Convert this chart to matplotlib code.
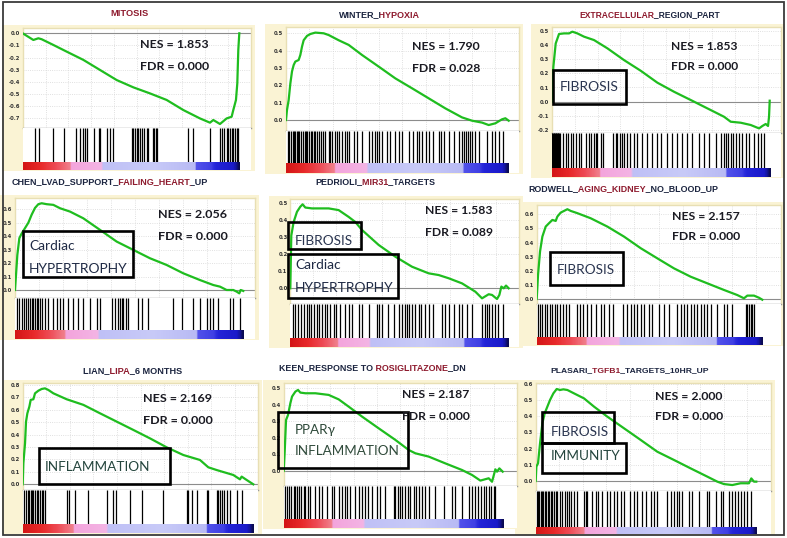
import numpy as np
import matplotlib
matplotlib.use('Agg')
import matplotlib.pyplot as plt
from matplotlib.colors import LinearSegmentedColormap
from matplotlib.patches import Rectangle
from matplotlib.transforms import IdentityTransform, Bbox

W, H = 787, 538
NAVY = '#1c2540'
DRED = '#8e1b2e'

# ---------------- data ----------------
title_parts = [
    [("MITOSIS", "r")],
    [("WINTER_", "n"), ("HYPOXIA", "r")],
    [("EXTRACELLULAR", "r"), ("_REGION_PART", "n")],
    [("CHEN_LVAD_SUPPORT_", "n"), ("FAILING_HEART", "r"), ("_UP", "n")],
    [("PEDRIOLI_", "n"), ("MIR31", "r"), ("_TARGETS", "n")],
    [("RODWELL_", "n"), ("AGING_KIDNEY", "r"), ("_NO_BLOOD_UP", "n")],
    [("LIAN_", "n"), ("LIPA", "r"), ("_6 MONTHS", "n")],
    [("KEEN_RESPONSE TO ", "n"), ("ROSIGLITAZONE", "r"), ("_DN", "n")],
    [("PLASARI_", "n"), ("TGFB1", "r"), ("_TARGETS_10HR_UP", "n")],
]
nes = [1.853, 1.790, 1.853, 2.056, 1.583, 2.157, 2.169, 2.187, 2.000]
fdr = [0.000, 0.028, 0.000, 0.000, 0.089, 0.000, 0.000, 0.000, 0.000]
box_labels = [[], [], [["FIBROSIS"]], [["Cardiac", "HYPERTROPHY"]],
              [["FIBROSIS"], ["Cardiac", "HYPERTROPHY"]], [["FIBROSIS"]],
              [["INFLAMMATION"]], [["PPARγ", "INFLAMMATION"]],
              [["FIBROSIS"], ["IMMUNITY"]]]
n_ranks = [650, 668, 654, 685, 655, 677, 692, 657, 662]

es_rank_1 = [0, 32, 47, 57, 92, 132, 182, 232, 282, 332, 382, 432, 482, 532, 562, 572, 592, 612, 627, 632, 640, 644, 647, 650]
es_1 = [0, -0.055, -0.041, -0.049, -0.096, -0.151, -0.219, -0.302, -0.385, -0.445, -0.495, -0.549, -0.632, -0.701, -0.736, -0.714, -0.747, -0.701, -0.687, -0.632, -0.549, -0.412, -0.137, 0.0]
hits_1 = [37, 50, 92, 124, 160, 172, 180, 187, 194, 214, 228, 232, 252, 262, 272, 327, 332, 337, 342, 347, 352, 357, 364, 372, 377, 390, 394, 400, 404, 497, 512, 562, 592, 597, 604, 612, 617, 622, 627, 632, 637, 642, 647]

es_rank_2 = [0, 3, 8, 13, 18, 23, 28, 38, 43, 48, 53, 63, 73, 88, 113, 128, 158, 188, 228, 278, 328, 378, 428, 478, 528, 558, 588, 608, 628, 648, 658, 668]
es_2 = [0, 0.058, 0.115, 0.21, 0.28, 0.317, 0.337, 0.346, 0.375, 0.423, 0.46, 0.485, 0.496, 0.504, 0.5, 0.49, 0.46, 0.433, 0.375, 0.308, 0.24, 0.183, 0.125, 0.067, 0.015, -0.004, -0.015, -0.029, -0.019, 0.004, 0.01, -0.004]
hits_2 = [6, 10, 14, 20, 24, 28, 32, 36, 40, 46, 50, 56, 60, 64, 70, 74, 78, 84, 88, 93, 98, 104, 110, 116, 128, 133, 138, 146, 153, 160, 168, 176, 184, 190, 203, 213, 228, 250, 258, 266, 273, 280, 288, 303, 313, 328, 340, 348, 368, 380, 393, 400, 408, 420, 428, 440, 458, 466, 473, 488, 503, 518, 528, 534, 540, 546, 552, 558, 568, 578, 603, 618, 628, 638, 650]

es_rank_3 = [0, 5, 12, 22, 37, 52, 62, 77, 97, 127, 167, 217, 267, 317, 367, 417, 467, 517, 537, 567, 597, 622, 632, 642, 649, 652, 654]
es_3 = [0, 0.246, 0.41, 0.477, 0.481, 0.481, 0.493, 0.481, 0.458, 0.434, 0.376, 0.293, 0.218, 0.134, 0.07, 0.012, -0.047, -0.106, -0.141, -0.148, -0.164, -0.188, -0.171, -0.157, -0.171, -0.106, 0.007]
hits_3 = [0, 2, 4, 6, 8, 10, 12, 14, 16, 18, 20, 22, 24, 35, 42, 49, 57, 65, 72, 82, 89, 102, 112, 117, 127, 132, 137, 147, 155, 185, 192, 197, 205, 212, 217, 225, 235, 247, 257, 272, 287, 302, 315, 327, 347, 362, 377, 392, 407, 422, 442, 457, 472, 492, 507, 517, 522, 529, 537, 545, 552, 562, 572, 582, 592, 607, 619, 629, 637]

es_rank_4 = [0, 3, 7, 13, 20, 30, 40, 50, 60, 70, 80, 95, 115, 135, 165, 205, 255, 305, 355, 405, 455, 505, 555, 595, 615, 635, 655, 665, 673, 677, 685]
es_4 = [0, 0.11, 0.26, 0.385, 0.42, 0.46, 0.5, 0.56, 0.61, 0.638, 0.645, 0.638, 0.633, 0.608, 0.583, 0.533, 0.447, 0.36, 0.298, 0.236, 0.186, 0.124, 0.074, 0.037, 0.025, 0.0, 0.0, -0.012, -0.025, 0.0, -0.007]
hits_4 = [7, 13, 20, 27, 33, 40, 45, 50, 55, 60, 65, 70, 75, 80, 90, 100, 115, 125, 135, 145, 160, 175, 190, 205, 225, 245, 255, 290, 300, 310, 315, 320, 325, 333, 340, 370, 380, 400, 475, 500, 535, 555, 575, 585, 595, 610, 645, 655, 675]

es_rank_5 = [0, 3, 10, 20, 30, 37, 45, 65, 95, 115, 145, 175, 195, 215, 265, 315, 365, 415, 445, 475, 515, 555, 575, 595, 605, 620, 627, 633, 640, 647, 655]
es_5 = [0, 0.31, 0.39, 0.45, 0.48, 0.494, 0.475, 0.47, 0.47, 0.47, 0.46, 0.42, 0.39, 0.343, 0.255, 0.186, 0.127, 0.088, 0.078, 0.059, 0.029, -0.02, -0.059, -0.035, -0.039, -0.063, -0.039, 0.01, 0.0, 0.016, 0.0]
hits_5 = [7, 15, 23, 33, 40, 50, 55, 63, 70, 80, 85, 95, 103, 110, 120, 130, 137, 150, 163, 175, 185, 205, 215, 237, 260, 267, 275, 293, 310, 327, 335, 343, 350, 357, 365, 375, 385, 393, 405, 415, 427, 455, 465, 475, 490, 505, 515, 530, 545, 575, 583, 590, 595, 605, 613, 623, 637]

es_rank_6 = [0, 4, 10, 17, 27, 37, 47, 57, 62, 72, 82, 92, 102, 122, 162, 212, 262, 312, 362, 412, 462, 512, 562, 602, 622, 632, 652, 667, 677]
es_6 = [0, 0.17, 0.336, 0.442, 0.513, 0.537, 0.56, 0.553, 0.584, 0.612, 0.624, 0.636, 0.624, 0.608, 0.572, 0.513, 0.442, 0.36, 0.288, 0.217, 0.158, 0.111, 0.064, 0.028, 0.005, 0.024, 0.024, 0.009, -0.005]
hits_6 = [4, 10, 17, 24, 32, 40, 47, 54, 62, 70, 80, 87, 97, 120, 130, 140, 152, 162, 177, 192, 202, 217, 230, 260, 272, 282, 292, 302, 312, 322, 337, 347, 367, 382, 397, 422, 434, 442, 452, 462, 472, 482, 492, 502, 512, 522, 542, 562, 572, 587, 627, 632, 637, 642, 647, 652]

es_rank_7 = [0, 2, 7, 10, 14, 20, 24, 32, 37, 47, 57, 67, 77, 92, 132, 182, 232, 282, 332, 382, 432, 482, 532, 557, 582, 632, 652, 657, 672, 692]
es_7 = [0, 0.17, 0.33, 0.505, 0.572, 0.626, 0.68, 0.685, 0.733, 0.754, 0.768, 0.773, 0.76, 0.733, 0.685, 0.64, 0.572, 0.505, 0.438, 0.37, 0.298, 0.236, 0.196, 0.137, 0.115, 0.075, 0.04, 0.062, 0.035, 0.0]
hits_7 = [4, 10, 15, 20, 24, 28, 32, 37, 42, 47, 52, 57, 62, 67, 132, 140, 157, 197, 252, 272, 280, 322, 357, 420, 492, 497, 507, 522, 552, 557, 582, 587, 592, 597, 604, 612, 622, 642, 657]

es_rank_8 = [0, 3, 7, 13, 20, 25, 35, 43, 50, 65, 95, 135, 165, 195, 235, 285, 335, 375, 395, 435, 485, 535, 565, 590, 615, 625, 635, 640, 647, 657]
es_8 = [0, 0.117, 0.308, 0.339, 0.41, 0.45, 0.48, 0.49, 0.474, 0.47, 0.47, 0.46, 0.433, 0.389, 0.329, 0.258, 0.188, 0.127, 0.107, 0.087, 0.046, 0.006, -0.024, -0.058, -0.044, -0.065, 0.01, -0.004, 0.016, -0.004]
hits_8 = [5, 10, 15, 23, 30, 35, 40, 47, 53, 60, 65, 73, 80, 95, 105, 115, 130, 145, 150, 165, 175, 183, 190, 200, 215, 225, 235, 245, 253, 265, 280, 290, 305, 330, 335, 343, 350, 355, 363, 373, 380, 390, 397, 405, 415, 425, 435, 455, 480, 505, 515, 535, 555, 565, 575, 583, 593, 600, 607, 615, 623, 630, 635]

es_rank_9 = [0, 2, 7, 13, 20, 27, 35, 43, 53, 63, 73, 83, 95, 115, 145, 175, 215, 265, 315, 365, 415, 465, 515, 545, 565, 590, 615, 640, 647, 655, 662]
es_9 = [0, 0.089, 0.109, 0.233, 0.357, 0.419, 0.46, 0.501, 0.542, 0.569, 0.563, 0.567, 0.563, 0.542, 0.511, 0.46, 0.398, 0.326, 0.254, 0.181, 0.13, 0.078, 0.027, -0.004, -0.019, -0.025, -0.014, -0.014, 0.016, -0.004, -0.004]
hits_9 = [3, 7, 11, 15, 19, 23, 27, 31, 37, 41, 45, 50, 55, 60, 65, 73, 80, 87, 93, 100, 107, 115, 125, 145, 150, 155, 170, 180, 187, 200, 215, 223, 235, 245, 255, 265, 283, 295, 305, 320, 330, 345, 355, 365, 395, 405, 415, 423, 430, 440, 460, 470, 490, 513, 520, 540, 555, 563, 580, 590, 597, 607, 617, 625, 635, 645]

es_ranks = [es_rank_1, es_rank_2, es_rank_3, es_rank_4, es_rank_5, es_rank_6, es_rank_7, es_rank_8, es_rank_9]
es_vals = [es_1, es_2, es_3, es_4, es_5, es_6, es_7, es_8, es_9]
hits = [hits_1, hits_2, hits_3, hits_4, hits_5, hits_6, hits_7, hits_8, hits_9]
yticks = [[-0.7, -0.6, -0.5, -0.4, -0.3, -0.2, -0.1, 0.0],
          [0.0, 0.1, 0.2, 0.3, 0.4, 0.5],
          [-0.2, -0.1, 0.0, 0.1, 0.2, 0.3, 0.4, 0.5],
          [0.0, 0.1, 0.2, 0.3, 0.4, 0.5, 0.6],
          [0.0, 0.1, 0.2, 0.3, 0.4, 0.5],
          [0.0, 0.1, 0.2, 0.3, 0.4, 0.5, 0.6],
          [0.0, 0.1, 0.2, 0.3, 0.4, 0.5, 0.6, 0.7, 0.8],
          [0.0, 0.1, 0.2, 0.3, 0.4, 0.5],
          [0.0, 0.1, 0.2, 0.3, 0.4, 0.5, 0.6]]

# ---------------- layout (pixels) ----------------
# L, R, E(curve end), top, zero_px, ref_px, ref_val, curve_bottom, hits_bottom, cbar_bottom
layout = [
    (22.7, 250.7, 239.3, 28.3, 33.3, 118.3, -0.7, 128.3, 161.7, 170.0),
    (286.0, 518.7, 508.7, 26.7, 120.0, 33.3, 0.5, 130.7, 163.3, 173.3),
    (551.7, 780.7, 769.7, 26.7, 101.7, 30.7, 0.5, 133.3, 168.3, 177.3),
    (15.0, 255.0, 243.3, 198.3, 290.0, 209.3, 0.6, 297.7, 330.0, 339.0),
    (290.3, 518.7, 508.7, 199.0, 288.3, 203.3, 0.5, 304.3, 338.3, 346.7),
    (536.7, 780.7, 762.3, 205.0, 299.0, 214.3, 0.6, 304.3, 336.7, 345.0),
    (22.7, 258.3, 253.3, 382.7, 484.3, 385.0, 0.8, 490.0, 524.0, 533.3),
    (283.7, 517.0, 502.7, 383.3, 471.0, 388.3, 0.5, 486.0, 519.3, 528.3),
    (535.7, 770.7, 756.3, 383.3, 481.0, 384.0, 0.6, 490.7, 526.7, 534.0),
]
title_pos = [(110, 148, 14), (339, 420, 15), (579, 719, 15), (12, 207, 182),
             (315, 435, 182), (528, 717, 189), (83, 182, 371), (279, 464, 368), (550, 707, 371)]
nes_pos = [(140, 208, 45, 66), (412, 480, 47, 68), (671, 737, 47, 67), (158, 227, 215, 236),
           (425, 492, 210, 232), (672, 740, 216, 237), (143, 212, 398, 420), (402, 469, 395, 416),
           (655, 723, 396, 417)]
# per box: (x0, y0, x1, y1, text_x, [y per line], width of longest line, color)
box_pos = [
    [], [],
    [(553, 70, 626, 104, 560, [87], 59, '#2a3550')],
    [(23, 231, 133, 277, 29, [245.7, 269], 98, '#1f2a45')],
    [(288, 222, 361, 249, 295, [240.7], 58, '#2a3550'),
     (288, 254, 398, 298, 295, [265, 288.3], 98, '#1f2a45')],
    [(550, 252, 623, 285, 557, [270], 58, '#2a3550')],
    [(39, 448, 170, 484, 45, [467.3], 105, '#24453d')],
    [(278, 412, 408, 468, 295, [430, 450.7], 104, '#2f4a3a')],
    [(542, 412, 614, 443, 551, [431.7], 58, '#2a3550'),
     (542, 443, 626, 473, 551, [456], 69, '#24453d')],
]

fig = plt.figure(figsize=(W / 100, H / 100), dpi=100)
fig.patch.set_facecolor('white')
renderer = fig.canvas.get_renderer()
ID = IdentityTransform()
FAM = ['Lato', 'DejaVu Sans']
TFAM = ['Liberation Sans', 'DejaVu Sans']


def fx(x):
    return x / W


def fy(y):
    return 1 - y / H


def text_w(s, fs, weight, fam=FAM):
    t = fig.text(0, 0, s, transform=ID, fontsize=fs, fontweight=weight, family=fam)
    w = t.get_window_extent(renderer).width
    t.remove()
    return w


def advance(s, fs, weight, fam):
    return text_w('H' + s + 'H', fs, weight, fam) - text_w('HH', fs, weight, fam)


def fit_text(s, x_left, width, y_center, weight, color, fs=None):
    if fs is None:
        fs = 10 * width / text_w(s, 10, weight)
    fig.text(x_left, H - y_center, s, transform=ID, fontsize=fs, fontweight=weight,
             color=color, family=FAM, ha='left', va='center', zorder=10)
    return fs


cmap = LinearSegmentedColormap.from_list('gsea', [
    (0.00, '#d41616'), (0.08, '#e82a2a'), (0.15, '#ee4c56'), (0.215, '#f0808c'),
    (0.22, '#f3a4dc'), (0.36, '#f4b4e4'), (0.37, '#bfc0f6'), (0.60, '#c8caf8'),
    (0.795, '#b8baf4'), (0.80, '#5252ea'), (0.87, '#4040e4'), (0.89, '#2424d8'),
    (0.975, '#1a1ac8'), (1.0, '#0a0a50')])

for i in range(9):
    L, R, E, top, zp, rp, rv, cb, hb, cbb = layout[i]
    N = n_ranks[i]
    xmax = N * (R - L) / (E - L)
    s = (zp - rp) / rv  # px per unit
    ylo = (zp - cb) / s
    yhi = (zp - top) / s

    # pale yellow frame
    fig.patches.append(Rectangle((fx(L - 21), fy(cbb + 1)), (R - L + 25) / W, (cbb - top + 4) / H,
                                 transform=fig.transFigure, facecolor='#faf3d4',
                                 edgecolor='none', zorder=-5))

    ax = fig.add_axes([fx(L), fy(cb), (R - L) / W, (cb - top) / H])
    ax.set_zorder(1)
    ax.set_facecolor('white')
    ax.set_xlim(0, xmax)
    ax.set_ylim(ylo, yhi)
    ax.set_xticks(np.linspace(0, xmax, 11)[1:-1])
    ax.set_xticklabels([])
    ax.set_yticks(yticks[i])
    ax.set_yticklabels(['%.1f' % v for v in yticks[i]])
    ax.tick_params(axis='both', length=0, pad=2, labelsize=3.8, colors='#333333')
    for lab in ax.get_yticklabels():
        lab.set_fontweight('bold')
    ax.grid(True, color='#d6d6d6', linestyle=':', linewidth=0.6)
    ax.axhline(0, color='#8c8c8c', lw=0.8, zorder=2)
    for sp in ax.spines.values():
        sp.set_color('#e8dfb4')
        sp.set_linewidth(1.0)
    ax.spines['bottom'].set_color('#9a9a9a')
    ax.plot(es_ranks[i], es_vals[i], color='#1fbd1f', lw=1.6, zorder=3,
            solid_joinstyle='round')

    hx = fig.add_axes([fx(L), fy(hb), (R - L) / W, (hb - cb) / H])
    hx.set_zorder(1)
    hx.set_xlim(0, xmax)
    hx.set_ylim(0, 1)
    hx.vlines(hits[i], 0, 1, color='black', lw=0.9)
    hx.set_xticks([])
    hx.set_yticks([])
    for sp in hx.spines.values():
        sp.set_visible(False)

    cx = fig.add_axes([fx(L), fy(cbb), (R - L) / W, (cbb - hb) / H])
    cx.set_zorder(1)
    cx.imshow(np.linspace(0, 1, 300)[None, :], aspect='auto', cmap=cmap,
              extent=(0, N, 0, 1), interpolation='bilinear')
    cx.set_xlim(0, xmax)
    cx.set_ylim(0, 1)
    cx.set_xticks([])
    cx.set_yticks([])
    for sp in cx.spines.values():
        sp.set_visible(False)

    # title: the full string drawn once per colour, each copy clipped to its segment
    x0, x1, yc = title_pos[i]
    parts = title_parts[i]
    full = ''.join(p[0] for p in parts)
    fs = 7 * (x1 - x0) / text_w(full, 7, 'bold', TFAM)
    bounds = [x0 - 10]
    for k in range(1, len(parts)):
        prefix = ''.join(p[0] for p in parts[:k])
        bounds.append(x0 + advance(prefix, fs, 'bold', TFAM))
    bounds.append(x1 + 30)
    for k, (txt, c) in enumerate(parts):
        t = fig.text(x0, H - yc, full, transform=ID, fontsize=fs, fontweight='bold',
                     color=DRED if c == 'r' else NAVY, family=TFAM, ha='left',
                     va='center', zorder=10)
        t.set_clip_box(Bbox.from_extents(bounds[k], H - yc - 15, bounds[k + 1], H - yc + 15))
        t.set_clip_on(True)

    # NES / FDR
    nx0, nx1, ny1, ny2 = nes_pos[i]
    f = fit_text('NES = %.3f' % nes[i], nx0, nx1 - nx0, ny1, 'bold', '#1a1a22')
    fit_text('FDR = %.3f' % fdr[i], nx0, 0, ny2, 'bold', '#1a1a22', fs=f)

    # label boxes
    for lines, bp in zip(box_labels[i], box_pos[i]):
        bx0, by0, bx1, by1, tx, tys, tw, tc = bp
        fig.patches.append(Rectangle((fx(bx0), fy(by1)), (bx1 - bx0) / W, (by1 - by0) / H,
                                     transform=fig.transFigure, facecolor='none',
                                     edgecolor='black', lw=1.9, zorder=9))
        longest = max(lines, key=len)
        fsb = 10 * tw / text_w(longest, 10, 'normal')
        for ln, ty in zip(lines, tys):
            fit_text(ln, tx, 0, ty, 'normal', tc, fs=fsb)

# outer border
fig.patches.append(Rectangle((fx(3), fy(535)), (784 - 3) / W, (535 - 2) / H,
                             transform=fig.transFigure, facecolor='none',
                             edgecolor='#3a3a3a', lw=1.3, zorder=20))

fig.savefig('out.png', dpi=100, facecolor='white')
